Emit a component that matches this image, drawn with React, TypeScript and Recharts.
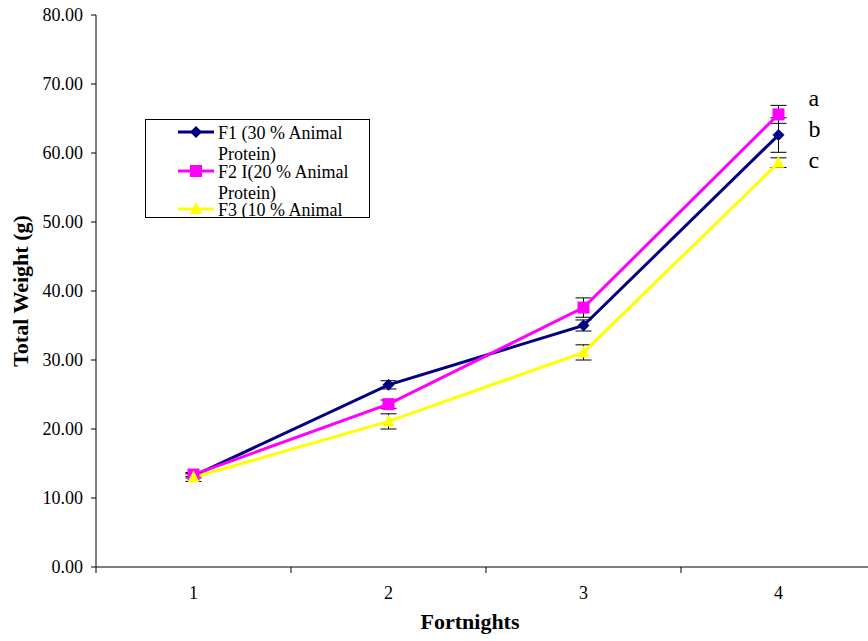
import { LineChart, Line, XAxis, YAxis, ErrorBar, Legend, LabelList } from 'recharts'

// mean total weight (g) per fortnight, with standard error
const fortnights = [1, 2, 3, 4]
const f1Weight = [13.2, 26.4, 35.0, 62.6]
const f1Error = [0.3, 0.6, 0.8, 2.5]
const f2Weight = [13.4, 23.6, 37.6, 65.6]
const f2Error = [0.3, 0.6, 1.4, 1.3]
const f3Weight = [13.0, 21.1, 31.1, 58.6]
const f3Error = [0.6, 1.1, 1.1, 0.7]

// significance letters on the last fortnight
const groupLetters = { f1: 'b', f2: 'a', f3: 'c' }

const weightTicks = [0, 10, 20, 30, 40, 50, 60, 70, 80]
const fortnightTicks = [0.5, 1, 1.5, 2, 2.5, 3, 3.5, 4]

const rows = fortnights.map((f, i) => ({
  fortnight: f,
  f1: f1Weight[i],
  f1Err: f1Error[i],
  f2: f2Weight[i],
  f2Err: f2Error[i],
  f3: f3Weight[i],
  f3Err: f3Error[i],
}))

const serif = "'Liberation Serif', 'Times New Roman', serif"

const series = [
  { key: 'f1', name: 'F1 (30 % Animal Protein)', color: '#000080', shape: 'diamond', letterDy: 2 },
  { key: 'f2', name: 'F2 I(20 % Animal Protein)', color: '#ff00ff', shape: 'square', letterDy: -8 },
  { key: 'f3', name: 'F3 (10 % Animal Protein)', color: '#ffff00', shape: 'triangle', letterDy: 5 },
]

function Marker({ shape, cx, cy, color }: { shape: string; cx: number; cy: number; color: string }) {
  if (shape === 'diamond') {
    return <polygon points={`${cx},${cy - 6} ${cx + 6},${cy} ${cx},${cy + 6} ${cx - 6},${cy}`} fill={color} />
  }
  if (shape === 'square') {
    return <rect x={cx - 6} y={cy - 6} width={12} height={12} fill={color} />
  }
  return <polygon points={`${cx},${cy - 7} ${cx + 6},${cy + 5} ${cx - 6},${cy + 5}`} fill={color} />
}

// integer values carry the label, half values mark the category boundaries
function FortnightTick(props: any) {
  const { x, y, payload } = props
  const v = payload.value
  if (Number.isInteger(v)) {
    return (
      <text x={x} y={y + 26} textAnchor="middle" fontSize={18} fontFamily={serif} fill="#000">
        {v}
      </text>
    )
  }
  return <line x1={x} x2={x} y1={y - 6} y2={y} stroke="#000" />
}

function LegendBox() {
  return (
    <div style={{ position: 'relative', width: '100%', height: '100%', fontFamily: serif, fontSize: 18 }}>
      {series.map((s, i) => (
        <div key={s.key} style={{ position: 'absolute', top: 3 + 38.5 * i, left: 0, right: 0 }}>
          <svg width={36} height={14} style={{ position: 'absolute', left: 32, top: 2 }}>
            <line x1={0} x2={36} y1={7} y2={7} stroke={s.color} strokeWidth={3} />
            <Marker shape={s.shape} cx={18} cy={7} color={s.color} />
          </svg>
          <div style={{ position: 'absolute', left: 72, top: 0, width: 148, lineHeight: '21px', color: '#000' }}>
            {s.name}
          </div>
        </div>
      ))}
    </div>
  )
}

export default function App() {
  return (
    <div style={{ position: 'absolute', left: 0, top: 0, width: 868, height: 641, overflow: 'hidden', background: '#fff' }}>
      <LineChart width={880} height={641} data={rows} margin={{ top: 15, right: 4, bottom: 0, left: 0 }}>
        <XAxis
          dataKey="fortnight"
          type="number"
          domain={[0.5, 4.5]}
          ticks={fortnightTicks}
          interval={0}
          height={74}
          tickSize={6}
          tickMargin={0}
          tickLine={{ stroke: 'none' }}
          tick={<FortnightTick />}
          axisLine={{ stroke: '#000' }}
          label={{
            value: 'Fortnights',
            position: 'insideBottom',
            offset: 12,
            dx: -16,
            style: { fontFamily: serif, fontSize: 22, fontWeight: 'bold', fill: '#000' },
          }}
        />
        <YAxis
          domain={[0, 80]}
          ticks={weightTicks}
          width={96}
          tickSize={5}
          tickMargin={8}
          tickFormatter={(v: number) => v.toFixed(2)}
          tick={{ fontFamily: serif, fontSize: 18, fill: '#000' }}
          tickLine={{ stroke: '#000' }}
          axisLine={{ stroke: '#000' }}
          label={{
            value: 'Total Weight (g)',
            angle: -90,
            position: 'insideLeft',
            offset: 20,
            style: { fontFamily: serif, fontSize: 22, fontWeight: 'bold', fill: '#000', textAnchor: 'middle' },
          }}
        />
        <Legend
          layout="vertical"
          align="center"
          verticalAlign="middle"
          content={() => <LegendBox />}
          wrapperStyle={{
            left: 145,
            top: 119,
            width: 225,
            height: 99,
            border: '1px solid #000',
            background: '#fff',
            boxSizing: 'border-box',
            overflow: 'hidden',
          }}
        />
        {series.map((s) => (
          <Line
            key={s.key}
            dataKey={s.key}
            name={s.name}
            stroke={s.color}
            strokeWidth={3}
            isAnimationActive={false}
            activeDot={false}
            dot={(p: any) => <Marker key={`${s.key}-${p.index}`} shape={s.shape} cx={p.cx} cy={p.cy} color={s.color} />}
          >
            <ErrorBar dataKey={`${s.key}Err`} width={8} stroke="#000" strokeWidth={1} direction="y" isAnimationActive={false} />
            <LabelList
              dataKey={s.key}
              content={(p: any) =>
                p.index === fortnights.length - 1 ? (
                  <text x={Number(p.x) + 30} y={Number(p.y) + s.letterDy} fontSize={24} fontFamily={serif} fill="#000">
                    {groupLetters[s.key as keyof typeof groupLetters]}
                  </text>
                ) : null
              }
            />
          </Line>
        ))}
      </LineChart>
    </div>
  )
}
